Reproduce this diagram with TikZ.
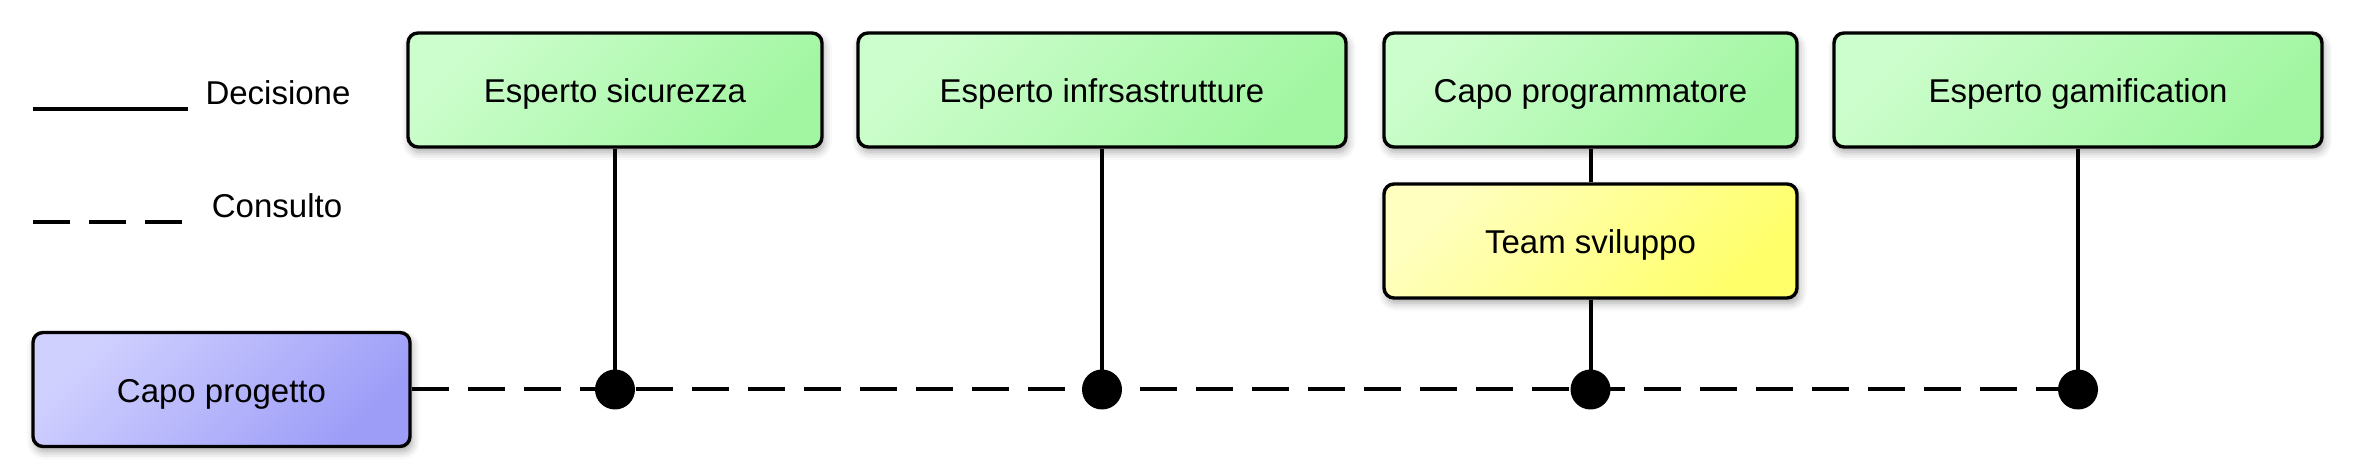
\documentclass[tikz,border=0pt]{standalone}
\usepackage{fontspec}
\setmainfont{Liberation Sans}
\usepackage{xcolor}
\usetikzlibrary{positioning,shadows.blur}
\definecolor{greenlt}{HTML}{CCFDCC}
\definecolor{greendk}{HTML}{A2F6A2}
\definecolor{violetlt}{HTML}{D0D0FF}
\definecolor{violetdk}{HTML}{9D9DF8}
\definecolor{yellowlt}{HTML}{FFFFC0}
\definecolor{yellowdk}{HTML}{FFFF6A}
\newcommand{\RoleF}{\fontsize{16.5}{19}\selectfont}
\tikzset{
  role/.style={rounded corners=5pt, draw=black, line width=1.7pt, align=center,
               font=\RoleF, minimum height=57pt, inner sep=0pt,
               text height=13.5pt, text depth=0.5pt,
               blur shadow={shadow xshift=1pt, shadow yshift=-2.5pt, shadow blur radius=4pt, shadow opacity=35}},
  expert/.style={role, top color=greenlt, bottom color=greendk, shading angle=45},
  lead/.style={role, top color=violetlt, bottom color=violetdk, shading angle=45},
  team/.style={role, top color=yellowlt, bottom color=yellowdk, shading angle=45},
  decide/.style={line width=2pt, draw=black},
  consult/.style={line width=2pt, draw=black, dash pattern=on 18.5pt off 9.5pt},
  joint/.style={circle, fill=black, minimum size=20pt, inner sep=0pt},
  legtxt/.style={font=\RoleF, inner sep=0pt},
}
\begin{document}
\begin{tikzpicture}[x=0.5pt,y=-0.5pt]
  \useasboundingbox (0,0) rectangle (2361,474);
  % legenda
  \coordinate (ds) at (33,109);
  \coordinate (de) at (188,109);
  \coordinate (cs) at (33,222);
  \coordinate (ce) at (183,222);
  \draw[decide] (ds) -- (de);
  \draw[consult] (cs) -- (ce);
  \node[legtxt] (ldec) at (278,93) {Decisione};
  \node[legtxt] (lcon) at (277,206) {Consulto};
  % ruoli
  \node[lead, minimum width=188.5pt] (capo) at (221.5,389.5) {Capo progetto};
  \node[expert, minimum width=207pt] (sic) at (615,90) {Esperto sicurezza};
  \node[expert, minimum width=244pt] (infra) at (1102,90) {Esperto infrsastrutture};
  \node[expert, minimum width=206.5pt] (cprog) at (1590.5,90) {Capo programmatore};
  \node[team, minimum width=206.5pt, below=16.8pt of cprog] (dev) {Team sviluppo};
  \node[expert, minimum width=244pt] (gam) at (2078,90) {Esperto gamification};
  % giunzioni
  \coordinate (d1) at (sic |- capo);
  \coordinate (d2) at (infra |- capo);
  \coordinate (d3) at (cprog |- capo);
  \coordinate (d4) at (gam |- capo);
  \draw[consult] (capo.east) -- (d4);
  \draw[decide] (sic.south) -- (d1);
  \draw[decide] (infra.south) -- (d2);
  \draw[decide] (cprog.south) -- (dev.north);
  \draw[decide] (dev.south) -- (d3);
  \draw[decide] (gam.south) -- (d4);
  \node[joint] (j1) at (d1) {};
  \node[joint] (j2) at (d2) {};
  \node[joint] (j3) at (d3) {};
  \node[joint] (j4) at (d4) {};
\end{tikzpicture}
\end{document}
